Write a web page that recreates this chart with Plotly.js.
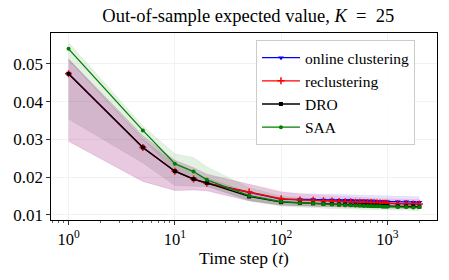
<!DOCTYPE html>
<html>
<head>
<meta charset="utf-8">
<script src="https://cdn.plot.ly/plotly-3.0.1.min.js"></script>
<style>html,body{margin:0;padding:0;background:#fff;}#chart{width:449px;height:280px;}</style>
</head>
<body>
<div id="chart"></div>
<script>
const timeSteps = [1,5,10,15,20,50,100,150,200,250,300,350,400,450,500,550,600,650,700,750,800,850,900,950,1000,1250,1500,1750,2000];

const onlineMean = [0.0474,0.0279,0.0216,0.0195,0.0184,0.0159,0.0142,0.0141,0.0141,0.0140,0.0140,0.0139,0.0139,0.0139,0.0138,0.0138,0.0138,0.0137,0.0137,0.0137,0.0136,0.0136,0.0136,0.0136,0.0135,0.0135,0.0135,0.0134,0.0134];
const onlineLow  = [0.0295,0.0189,0.0165,0.0166,0.0164,0.0137,0.0126,0.0124,0.0123,0.0122,0.0122,0.0121,0.0121,0.0121,0.0120,0.0120,0.0120,0.0120,0.0120,0.0120,0.0119,0.0119,0.0119,0.0119,0.0119,0.0119,0.0119,0.0118,0.0118];
const onlineHigh = [0.0513,0.0310,0.0245,0.0225,0.0208,0.0180,0.0160,0.0157,0.0156,0.0155,0.0154,0.0154,0.0153,0.0153,0.0152,0.0152,0.0151,0.0151,0.0151,0.0150,0.0150,0.0150,0.0150,0.0149,0.0149,0.0149,0.0148,0.0148,0.0148];

const reclMean = [0.0474,0.0279,0.0216,0.0195,0.0184,0.0161,0.0143,0.0140,0.0139,0.0138,0.0137,0.0136,0.0135,0.0135,0.0134,0.0134,0.0133,0.0133,0.0133,0.0132,0.0132,0.0132,0.0131,0.0131,0.0131,0.0130,0.0130,0.0129,0.0129];
const reclLow  = [0.0295,0.0189,0.0165,0.0166,0.0164,0.0138,0.0127,0.0124,0.0123,0.0122,0.0121,0.0121,0.0120,0.0120,0.0120,0.0119,0.0119,0.0119,0.0119,0.0118,0.0118,0.0118,0.0118,0.0118,0.0118,0.0117,0.0117,0.0117,0.0117];
const reclHigh = [0.0513,0.0310,0.0245,0.0225,0.0208,0.0182,0.0162,0.0155,0.0153,0.0151,0.0150,0.0149,0.0148,0.0147,0.0147,0.0146,0.0146,0.0145,0.0145,0.0145,0.0144,0.0144,0.0144,0.0143,0.0143,0.0142,0.0142,0.0141,0.0141];

const droMean = [0.0474,0.0279,0.0216,0.0195,0.0185,0.0149,0.0134,0.0132,0.0131,0.0130,0.0129,0.0128,0.0128,0.0127,0.0127,0.0126,0.0126,0.0126,0.0125,0.0125,0.0125,0.0124,0.0124,0.0124,0.0124,0.0123,0.0123,0.0123,0.0122];
const droLow  = [0.0354,0.0238,0.0178,0.0177,0.0175,0.0140,0.0126,0.0124,0.0123,0.0122,0.0121,0.0121,0.0120,0.0120,0.0120,0.0119,0.0119,0.0119,0.0119,0.0118,0.0118,0.0118,0.0118,0.0118,0.0117,0.0117,0.0117,0.0117,0.0116];
const droHigh = [0.0513,0.0300,0.0235,0.0212,0.0198,0.0160,0.0142,0.0140,0.0139,0.0137,0.0136,0.0135,0.0135,0.0134,0.0134,0.0133,0.0133,0.0133,0.0132,0.0132,0.0132,0.0131,0.0131,0.0131,0.0130,0.0130,0.0130,0.0129,0.0128];

const saaMean = [0.0540,0.0324,0.0236,0.0215,0.0193,0.0151,0.0135,0.0132,0.0131,0.0129,0.0128,0.0127,0.0126,0.0126,0.0125,0.0125,0.0124,0.0124,0.0124,0.0123,0.0123,0.0123,0.0122,0.0122,0.0122,0.0121,0.0121,0.0120,0.0121];
const saaLow  = [0.0510,0.0300,0.0215,0.0195,0.0178,0.0137,0.0123,0.0120,0.0119,0.0118,0.0117,0.0117,0.0116,0.0116,0.0116,0.0115,0.0115,0.0115,0.0115,0.0114,0.0114,0.0114,0.0114,0.0114,0.0113,0.0113,0.0113,0.0112,0.0112];
const saaHigh = [0.0557,0.0336,0.0262,0.0252,0.0228,0.0172,0.0150,0.0145,0.0143,0.0141,0.0140,0.0139,0.0138,0.0137,0.0137,0.0136,0.0136,0.0135,0.0135,0.0135,0.0134,0.0134,0.0134,0.0133,0.0133,0.0132,0.0132,0.0131,0.0131];

const seriesNames = ['online clustering','reclustering','DRO','SAA'];
const xTickVals = [1,10,100,1000];
const xTickText = ['10<sup>0</sup>','10<sup>1</sup>','10<sup>2</sup>','10<sup>3</sup>'];
const xMinorVals = [0.7,0.8,0.9,2,3,4,5,6,7,8,9,20,30,40,50,60,70,80,90,200,300,400,500,600,700,800,900,2000];
const yTickVals = [0.01,0.02,0.03,0.04,0.05];
const yTickText = ['0.01','0.02','0.03','0.04','0.05'];

const series = [
  {name: seriesNames[0], mean: onlineMean, low: onlineLow, high: onlineHigh, color: '#0000ff', fill: 'rgba(0,0,255,0.10)', symbol: 'triangle-down', size: 5},
  {name: seriesNames[1], mean: reclMean, low: reclLow, high: reclHigh, color: '#ff0000', fill: 'rgba(255,0,0,0.12)', symbol: 'cross-thin', size: 5},
  {name: seriesNames[2], mean: droMean, low: droLow, high: droHigh, color: '#000000', fill: 'rgba(0,0,0,0.09)', symbol: 'square', size: 4},
  {name: seriesNames[3], mean: saaMean, low: saaLow, high: saaHigh, color: '#008000', fill: 'rgba(0,128,0,0.11)', symbol: 'circle', size: 4}
];

const traces = [];
series.forEach(s => {
  traces.push({x: timeSteps, y: s.low, type: 'scatter', mode: 'lines', line: {width: 0.6, color: s.fill}, showlegend: false, hoverinfo: 'skip'});
  traces.push({x: timeSteps, y: s.high, type: 'scatter', mode: 'lines', fill: 'tonexty', fillcolor: s.fill, line: {width: 0.6, color: s.fill}, showlegend: false, hoverinfo: 'skip'});
});
series.forEach(s => {
  traces.push({x: timeSteps, y: s.mean, type: 'scatter', mode: 'lines+markers', name: s.name,
    line: {color: s.color, width: 1.3},
    marker: {symbol: s.symbol, size: s.size, color: s.color, line: {color: s.color, width: s.symbol === 'cross-thin' ? 1.5 : 0}}});
});
// helper trace for minor-tick axis
traces.push({x: [1], y: [0.02], xaxis: 'x2', type: 'scatter', mode: 'markers', marker: {opacity: 0}, showlegend: false, hoverinfo: 'skip'});

const xr = [Math.log10(1) - 0.165, Math.log10(2000) + 0.165];
const fam = 'Liberation Serif, DejaVu Serif, serif';
const font = {family: fam, color: '#000', size: 16.5};

const layout = {
  width: 449, height: 280,
  margin: {l: 51, r: 12, t: 33, b: 60},
  paper_bgcolor: '#fff', plot_bgcolor: '#fff',
  font: font,
  title: {text: 'Out-of-sample expected value, <i>K</i>&nbsp;&nbsp;=&nbsp;&nbsp;25', x: 0.553, xanchor: 'center', y: 0.945, yanchor: 'middle', font: {family: fam, size: 18.5, color: '#000'}},
  xaxis: {type: 'log', range: xr, tickvals: xTickVals, ticktext: xTickText, ticks: 'outside', ticklen: 3.5, tickwidth: 0.8, tickcolor: '#000',
    showgrid: true, gridcolor: '#efefef', gridwidth: 0.8, zeroline: false, showline: true, linecolor: '#000', linewidth: 1.2, mirror: true,
    title: {text: 'Time step (<i>t</i>)', font: {family: fam, size: 17.5, color: '#000'}, standoff: 4}, tickfont: {family: fam, size: 16.5, color: '#000'}},
  xaxis2: {type: 'log', range: xr, overlaying: 'x', anchor: 'y', side: 'bottom', tickvals: xMinorVals, showticklabels: false, ticks: 'outside', ticklen: 2, tickwidth: 0.6, tickcolor: '#000', showgrid: false, zeroline: false, showline: false},
  yaxis: {range: [0.00867, 0.0582], tickvals: yTickVals, ticktext: yTickText, ticks: 'outside', ticklen: 3.5, tickwidth: 0.8, tickcolor: '#000',
    showgrid: true, gridcolor: '#efefef', gridwidth: 0.8, zeroline: false, showline: true, linecolor: '#000', linewidth: 1.2, mirror: true, tickfont: {family: fam, size: 17, color: '#000'}},
  legend: {x: 0.531, y: 0.962, xanchor: 'left', yanchor: 'top', traceorder: 'normal', bgcolor: 'rgba(255,255,255,0.85)', bordercolor: '#cccccc', borderwidth: 1,
    font: {family: fam, size: 15.5, color: '#000'}, tracegroupgap: 0, itemwidth: 38},
  showlegend: true
};

Plotly.newPlot('chart', traces, layout, {staticPlot: true, displayModeBar: false});
</script>
</body>
</html>
